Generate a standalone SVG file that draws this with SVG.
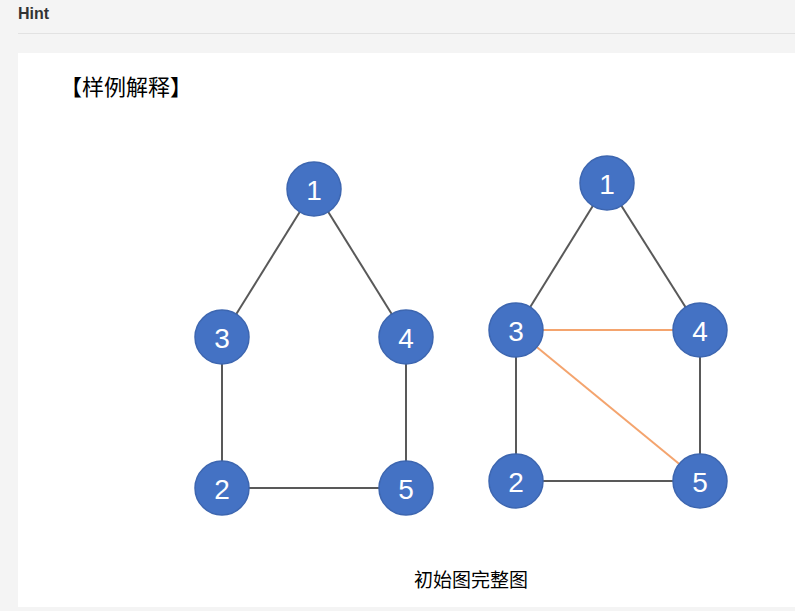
<svg xmlns="http://www.w3.org/2000/svg" width="795" height="611" viewBox="0 0 795 611">
<style>
.n circle{fill:#4472c4;stroke:#3d66b0;stroke-width:1.5}
.n text{fill:#fff;font-family:"Liberation Sans",Arial,sans-serif;font-size:28px;text-anchor:middle;dominant-baseline:central}
.e{stroke:#595959;stroke-width:2}
.o{stroke:#f4a46e;stroke-width:2}
.cjk{font-family:"Liberation Sans","Noto Sans CJK SC",sans-serif;fill:#000}
</style>
<rect width="795" height="611" fill="#f4f4f4"/>
<text x="18" y="19" font-family="Liberation Sans,Arial,sans-serif" font-weight="bold" font-size="16" fill="#333">Hint</text>
<line x1="18" y1="33.5" x2="795" y2="33.5" stroke="#e2e2e2"/>
<rect x="18" y="53" width="777" height="554" fill="#fff"/>
<text class="cjk" x="60" y="95" font-size="22">【样例解释】</text>
<g id="connectors">
<line class="e" x1="314" y1="189" x2="222" y2="337"/>
<line class="e" x1="314" y1="189" x2="406" y2="337"/>
<line class="e" x1="222" y1="337" x2="222" y2="488"/>
<line class="e" x1="406" y1="337" x2="406" y2="488"/>
<line class="e" x1="222" y1="488" x2="406" y2="488"/>
<line class="e" x1="607" y1="183" x2="516" y2="330"/>
<line class="e" x1="607" y1="183" x2="700" y2="330"/>
<line class="e" x1="516" y1="330" x2="516" y2="481"/>
<line class="e" x1="700" y1="330" x2="700" y2="481"/>
<line class="e" x1="516" y1="481" x2="700" y2="481"/>
<line class="o" x1="516" y1="330" x2="700" y2="330"/>
<line class="o" x1="516" y1="330" x2="700" y2="481"/>
</g>
<g id="a1" class="n"><circle cx="314" cy="189" r="27"/><text x="314" y="190">1</text></g>
<g id="a3" class="n"><circle cx="222" cy="337" r="27"/><text x="222" y="338">3</text></g>
<g id="a4" class="n"><circle cx="406" cy="337" r="27"/><text x="406" y="338">4</text></g>
<g id="a2" class="n"><circle cx="222" cy="488" r="27"/><text x="222" y="489">2</text></g>
<g id="a5" class="n"><circle cx="406" cy="488" r="27"/><text x="406" y="489">5</text></g>
<g id="b1" class="n"><circle cx="607" cy="183" r="27"/><text x="607" y="184">1</text></g>
<g id="b3" class="n"><circle cx="516" cy="330" r="27"/><text x="516" y="331">3</text></g>
<g id="b4" class="n"><circle cx="700" cy="330" r="27"/><text x="700" y="331">4</text></g>
<g id="b2" class="n"><circle cx="516" cy="481" r="27"/><text x="516" y="482">2</text></g>
<g id="b5" class="n"><circle cx="700" cy="481" r="27"/><text x="700" y="482">5</text></g>
<text class="cjk" x="471" y="587" font-size="19" text-anchor="middle">初始图完整图</text>
</svg>
